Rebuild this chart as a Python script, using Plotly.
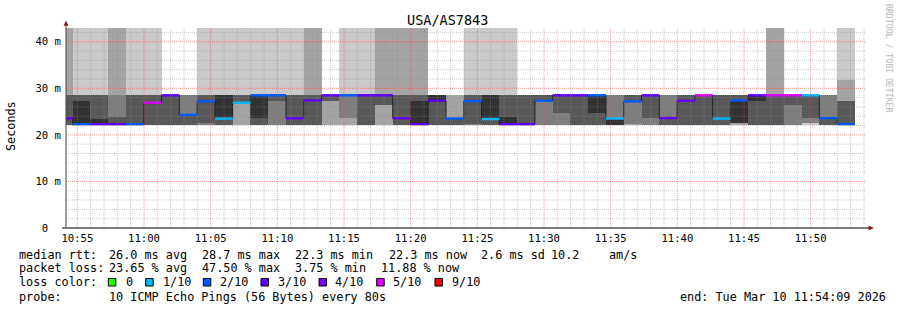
import plotly.graph_objects as go
from datetime import datetime, timedelta

# ---------------- data ----------------
title_text = "USA/AS7843"
step_seconds = 80
first_interval_end = "2026-03-10 10:54:39"
view_start = "2026-03-10 10:54:09"
view_end = "2026-03-10 11:54:09"
x_tick_labels = ["10:55", "11:00", "11:05", "11:10", "11:15", "11:20",
                 "11:25", "11:30", "11:35", "11:40", "11:45", "11:50"]
y_tick_values = [0, 10, 20, 30, 40]
y_tick_labels = ["0\u00a0\u00a0", "10 m", "20 m", "30 m", "40 m"]
y_max = 42.95

# median rtt per 80 s interval (ms)
median_ms = [23.55, 22.3, 22.3, 22.3, 22.3, 26.9, 28.5, 24.3, 27.2, 23.5,
             26.9, 28.5, 28.5, 23.55, 27.4, 28.5, 28.5, 28.5, 28.5, 23.55,
             22.3, 27.35, 23.5, 27.25, 23.4, 22.3, 22.3, 27.35, 28.5, 28.5,
             28.5, 23.5, 27.2, 28.5, 23.6, 27.33, 28.5, 23.5, 27.4, 28.5,
             28.5, 28.5, 28.5, 23.6, 22.3]
# packet loss per interval (%)
loss_pct = [27.5, 15, 27.5, 27.5, 15, 47.5, 27.5, 15, 15, 7.5,
            7.5, 15, 15, 27.5, 27.5, 27.5, 15, 27.5, 27.5, 27.5,
            27.5, 27.5, 15, 15, 3.75, 27.5, 27.5, 15, 27.5, 27.5,
            15, 7.5, 15, 27.5, 27.5, 27.5, 47.5, 7.5, 15, 27.5,
            47.5, 47.5, 7.5, 15, 11.88]
# highest ping of the interval (top of smoke band)
max_ping_ms = [28.6] * 45
# smoke layer reaching above the graph (0 = none, 1 = outer, 2 = second)
upper_layer = [2, 1, 1, 2, 1, 1, 0, 0, 1, 1,
               1, 1, 1, 1, 2, 0, 1, 1, 2, 2,
               2, 0, 0, 1, 1, 1, 0, 0, 0, 0,
               0, 0, 0, 0, 0, 0, 0, 0, 0, 0,
               2, 0, 0, 0, 1]

# smoke layers (outer=1 ... inner=5): (low, high) ms per interval index
layer1 = {42: (22.2, 22.6)}
layer2 = {10: (22.2, 26.9), 15: (22.2, 27.3), 16: (22.2, 23.6), 18: (22.2, 26.4),
          22: (23.6, 28.6), 32: (22.2, 22.4), 38: (22.2, 22.6), 44: (27.3, 31.8)}
layer3 = {3: (23.9, 28.6), 7: (24.3, 28.6), 8: (22.2, 22.6), 12: (22.2, 27.2),
          16: (23.6, 28.6), 23: (22.2, 22.4), 27: (22.2, 27.3), 28: (22.2, 24.6),
          31: (23.5, 28.6), 32: (22.4, 27.3), 33: (22.2, 23.6), 34: (23.6, 28.6),
          41: (22.2, 26.4), 42: (22.6, 23.6), 43: (23.6, 28.6)}
layer4 = {0: (22.2, 28.6), 1: (27.3, 28.6), 2: (23.5, 28.6), 3: (22.2, 23.9),
          4: (22.2, 28.6), 5: (22.2, 28.6), 6: (22.2, 28.6), 7: (22.2, 24.3),
          8: (22.6, 28.6), 9: (22.2, 23.5), 10: (26.9, 28.6), 11: (22.2, 23.6),
          12: (27.2, 28.6), 13: (22.2, 28.6), 14: (22.2, 28.6), 15: (27.3, 28.6),
          17: (22.2, 28.6), 18: (26.4, 28.6), 19: (22.2, 28.6), 20: (22.2, 28.6),
          21: (22.2, 27.4), 22: (22.2, 23.6), 23: (22.4, 28.6), 24: (22.2, 23.5),
          25: (22.2, 28.6), 26: (22.2, 28.6), 27: (27.3, 28.6), 28: (24.6, 28.6),
          29: (22.2, 28.6), 30: (22.2, 24.6), 32: (27.3, 28.6), 33: (23.6, 28.6),
          34: (22.2, 23.6), 35: (22.2, 28.6), 36: (22.2, 28.6), 37: (22.2, 28.6),
          38: (22.6, 28.6), 39: (22.2, 27.3), 40: (22.2, 28.6), 41: (26.4, 28.6),
          42: (23.6, 28.6), 43: (22.2, 23.6), 44: (22.2, 27.3)}
layer5 = {1: (22.2, 27.3), 2: (22.2, 23.5), 9: (23.5, 28.6), 11: (23.6, 28.6),
          20: (22.4, 27.3), 21: (27.4, 28.6), 24: (23.5, 28.6), 25: (22.4, 23.8),
          30: (24.6, 28.6), 31: (22.2, 23.5), 38: (22.6, 27.3), 39: (27.3, 28.6)}

loss_thresholds = [0, 1, 2, 3, 4, 5, 9]
loss_labels = ["0", "1/10", "2/10", "3/10", "4/10", "5/10", "9/10"]
loss_colors = ["#26ff00", "#00b8ff", "#0059ff", "#5e00ff", "#7e00ff", "#dd00ff", "#ff0000"]
pings_per_round = 10

stats_line1 = [("median rtt:", 16.7), ("26.0 ms avg", 107.3), ("28.7 ms max", 200),
               ("22.3 ms min", 292.7), ("22.3 ms now", 386.7), ("2.6 ms sd", 479.3),
               ("10.2", 549.3), ("am/s", 606.7)]
stats_line2 = [("packet loss:", 16.7), ("23.65 % avg", 107.3), ("47.50 % max", 200),
               ("3.75 % min", 292.7), ("11.88 % now", 379.3)]
probe_text = "10 ICMP Echo Pings (56 Bytes) every 80s"
end_text = "end: Tue Mar 10 11:54:09 2026"

# ---------------- styling / geometry ----------------
W, H = 897, 310
ML, MR, MT, MB = 66, 31, 28, 82
PW, PH = W - ML - MR, H - MT - MB
FONT = "DejaVu Sans Mono"
smoke_colors = {1: "#cacaca", 2: "#a4a4a4", 3: "#7e7e7e", 4: "#585858", 5: "#323232"}


def pxx(x):
    return (x - ML) / PW


def pxy(y):
    return (H - MB - y) / PH


t_first_end = datetime.fromisoformat(first_interval_end)
step = timedelta(seconds=step_seconds)
n = len(median_ms)
ends = [t_first_end + k * step for k in range(n)]
starts = [e - step for e in ends]
centers = [e - step / 2 for e in ends]
bar_w = step_seconds * 1000

fig = go.Figure()

# columns above the band
for lay in (1, 2):
    xs, bs, ys = [], [], []
    for i in range(n):
        if upper_layer[i] == lay:
            xs.append(centers[i]); bs.append(max_ping_ms[i]); ys.append(y_max + 5 - max_ping_ms[i])
    fig.add_trace(go.Bar(x=xs, base=bs, y=ys, width=bar_w,
                         marker=dict(color=smoke_colors[lay], line=dict(width=0)),
                         showlegend=False, hoverinfo="skip"))

for lay, d in ((1, layer1), (2, layer2), (3, layer3), (4, layer4), (5, layer5)):
    xs, bs, ys = [], [], []
    for i, (lo, hi) in sorted(d.items()):
        xs.append(centers[i]); bs.append(lo); ys.append(hi - lo)
    fig.add_trace(go.Bar(x=xs, base=bs, y=ys, width=bar_w,
                         marker=dict(color=smoke_colors[lay], line=dict(width=0)),
                         showlegend=False, hoverinfo="skip"))

# black median step line
fig.add_trace(go.Scatter(x=starts + [ends[-1]], y=median_ms + [median_ms[-1]], mode="lines",
                         line=dict(color="#202020", width=1, shape="hv"), showlegend=False, hoverinfo="skip"))


def bucket(lp):
    lost = lp / 100 * pings_per_round
    last = -1
    for j, t in enumerate(loss_thresholds):
        if last < lost <= t:
            return j
        last = t
    return len(loss_thresholds) - 1


# loss-coloured median bands
for j, col in enumerate(loss_colors):
    xs, ys = [], []
    for i in range(n):
        if bucket(loss_pct[i]) == j:
            xs += [starts[i], ends[i], None]
            ys += [median_ms[i], median_ms[i], None]
    if xs:
        fig.add_trace(go.Scatter(x=xs, y=ys, mode="lines", line=dict(color=col, width=2.4),
                                 showlegend=False, hoverinfo="skip", connectgaps=False))

shapes = []
# grid on top
t0 = datetime.fromisoformat(view_start)
t1 = datetime.fromisoformat(view_end)
m = t0.replace(second=0) + timedelta(minutes=1)
while m <= t1:
    major = m.minute % 5 == 0
    shapes.append(dict(type="line", xref="x", yref="paper", x0=m, x1=m, y0=0, y1=1, layer="above",
                       line=dict(color="rgba(235,70,70,0.55)" if major else "rgba(140,140,140,0.45)",
                                 width=1, dash="1px,1px")))
    m += timedelta(minutes=1)
v = 2
while v < y_max:
    major = v % 10 == 0
    shapes.append(dict(type="line", xref="paper", yref="y", x0=0, x1=1, y0=v, y1=v, layer="above",
                       line=dict(color="rgba(235,70,70,0.55)" if major else "rgba(140,140,140,0.45)",
                                 width=1, dash="1px,1px")))
    v += 2

# axes lines and arrows
shapes.append(dict(type="line", xref="paper", yref="paper", x0=pxx(62), x1=pxx(869), y0=0, y1=0,
                   line=dict(color="#000000", width=1), layer="above"))
shapes.append(dict(type="line", xref="paper", yref="paper", x0=0, x1=0, y0=0, y1=pxy(25),
                   line=dict(color="#404040", width=1), layer="above"))
arrow_col = "#8b1a1a"
shapes.append(dict(type="path", xref="paper", yref="paper",
                   path=f"M {pxx(63.5)} {pxy(25.7)} L {pxx(66)} {pxy(20.5)} L {pxx(68.5)} {pxy(25.7)} Z",
                   fillcolor=arrow_col, line=dict(width=0), layer="above"))
shapes.append(dict(type="path", xref="paper", yref="paper",
                   path=f"M {pxx(868.5)} {pxy(225.5)} L {pxx(874)} {pxy(228)} L {pxx(868.5)} {pxy(230.5)} Z",
                   fillcolor=arrow_col, line=dict(width=0), layer="above"))

annotations = []


def text(t, x, y, size=11.8, color="#000000", anchor="left", angle=0):
    annotations.append(dict(text=t, x=pxx(x), y=pxy(y), xref="paper", yref="paper", showarrow=False,
                            xanchor=anchor, yanchor="middle", textangle=angle,
                            font=dict(family=FONT, size=size, color=color)))


text(title_text, 447.7, 20, size=13.5, anchor="center")
text("Seconds", 11, 126, size=11.8, anchor="center", angle=-90)
text("RRDTOOL / TOBI OETIKER", 888.5, 58.5, size=8.2, color="#b8b8b8", anchor="center", angle=90)

for t, x in stats_line1:
    text(t, x, 254.5)
for t, x in stats_line2:
    text(t, x, 268.3)
text("loss color:", 16.7, 282.3)
box_x = [108.3, 145.7, 203.3, 261, 319, 376.7, 435]
lab_x = [124, 160.7, 218.3, 276, 333.3, 391, 450]
for bx, lx, lab, col in zip(box_x, lab_x, loss_labels, loss_colors):
    shapes.append(dict(type="rect", xref="paper", yref="paper", x0=pxx(bx), x1=pxx(bx + 7.5),
                       y0=pxy(286), y1=pxy(278.5), fillcolor=col, line=dict(color="#000000", width=1)))
    text(lab, lx, 282.3)
text("probe:", 16.7, 296.5)
text(probe_text, 107.3, 296.5)
text(end_text, 678.3, 296.5)

fig.update_layout(
    width=W, height=H, margin=dict(l=ML, r=MR, t=MT, b=MB),
    paper_bgcolor="#ffffff", plot_bgcolor="#ffffff",
    barmode="overlay", bargap=0, showlegend=False,
    shapes=shapes, annotations=annotations,
    xaxis=dict(type="date", range=[view_start, view_end], showgrid=False, zeroline=False, showline=False,
               tickmode="array",
               tickvals=[datetime(2026, 3, 10, 10, 55) + timedelta(minutes=5 * k) for k in range(len(x_tick_labels))],
               ticktext=x_tick_labels, ticks="", tickfont=dict(family=FONT, size=10.6, color="#000000"),
               ticklabelstandoff=2),
    yaxis=dict(range=[0, y_max], showgrid=False, zeroline=False, showline=False,
               tickmode="array", tickvals=y_tick_values, ticktext=y_tick_labels, ticks="",
               tickfont=dict(family=FONT, size=10.6, color="#000000"), ticklabelstandoff=4),
)

fig.write_html("out.html")
